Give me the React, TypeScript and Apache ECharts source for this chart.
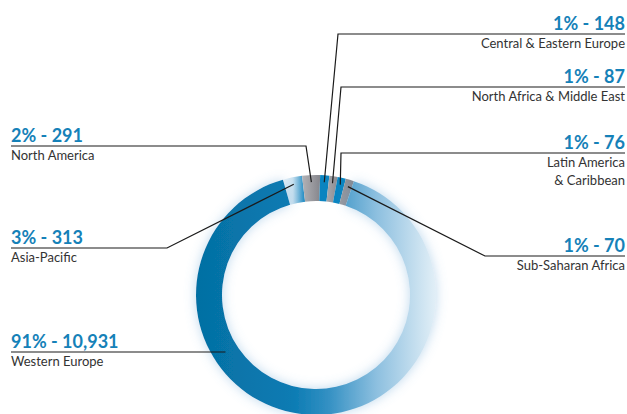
import React, { useEffect, useRef } from "react";
import * as echarts from "echarts";

// ---- data (clockwise from the top-left) ----
const regions = [
  "Asia-Pacific",
  "North America",
  "Central & Eastern Europe",
  "North Africa & Middle East",
  "Latin America\n& Caribbean",
  "Sub-Saharan Africa",
  "Western Europe",
];
const values = [313, 291, 148, 87, 76, 70, 10931];
const percents = [3, 2, 1, 1, 1, 1, 91];

// ---- layout (not data) ----
const labelSide = ["left", "left", "right", "right", "right", "right", "left"];
const labelLineY = [248, 146, 34, 87, 153, 256, 352];
const elbowX: (number | null)[] = [167, 306, 338, 341, 341, 485, null];

const CX = 316;
const CY = 295;
const R_IN = 94;
const R_OUT = 120;
const R_MARK = 113;
const LEFT_X = 11;
const RIGHT_X = 625;
const START = 106;
const MIN_ANGLE = 4;

const BLUE_TEXT = "#1581b8";
const LG = (stops: [number, string][]) =>
  new echarts.graphic.LinearGradient(
    0,
    0,
    1,
    0,
    stops.map(([offset, color]) => ({ offset, color }))
  );

const segmentStyles = [
  {
    color: LG([
      [0, "#eef5fa"],
      [0.45, "#c8e0ef"],
      [1, "#1786c0"],
    ]),
  },
  {
    color: LG([
      [0, "#b2b2b6"],
      [1, "#86868c"],
    ]),
  },
  { color: "#0a84c0" },
  {
    color: LG([
      [0, "#a8a8ad"],
      [1, "#8c8c92"],
    ]),
  },
  { color: "#0a84c0" },
  {
    color: LG([
      [0, "#9a9aa0"],
      [1, "#85858b"],
    ]),
  },
  {
    color: LG([
      [0, "#0570a3"],
      [0.4, "#0a7bb3"],
      [0.55, "#3390c3"],
      [0.75, "#8cbfdf"],
      [1, "#e2eff7"],
    ]),
    shadowBlur: 12,
    shadowColor: "rgba(110,170,215,0.45)",
  },
];

export default function App() {
  const ref = useRef<HTMLDivElement>(null);

  useEffect(() => {
    if (!ref.current) return;
    const chart = echarts.init(ref.current, undefined, { renderer: "svg" });

    const ringData = values.map((v, i) => ({
      value: v,
      name: regions[i],
      itemStyle: segmentStyles[i],
    }));
    const labelData = values.map((v, i) => ({
      value: v,
      name: regions[i],
    }));

    const common = {
      type: "pie",
      center: [CX, CY],
      radius: [R_IN, R_OUT],
      startAngle: START,
      clockwise: true,
      minAngle: MIN_ANGLE,
      avoidLabelOverlap: false,
      emphasis: { disabled: true },
      silent: true,
    };

    chart.setOption({
      animation: false,
      backgroundColor: "#ffffff",
      textStyle: { fontFamily: "Lato" },
      series: [
        {
          ...common,
          z: 2,
          itemStyle: { borderWidth: 0 },
          label: { show: false },
          labelLine: { show: false },
          data: ringData,
        },
        {
          ...common,
          z: 5,
          itemStyle: { color: "rgba(0,0,0,0)", borderWidth: 0 },
          label: {
            show: true,
            position: "outside",
            fontFamily: "Lato",
            formatter: (p: any) => {
              const i = p.dataIndex;
              const v = values[i].toLocaleString("en-US");
              const nameLines = regions[i]
                .split("\n")
                .map((s) => `{n|${s}}`)
                .join("\n");
              return `{v|${percents[i]}% - ${v}}\n${nameLines}`;
            },
            rich: {
              v: {
                fontFamily: "Lato",
                fontSize: 18,
                fontWeight: "bold",
                color: BLUE_TEXT,
                lineHeight: 22,
              },
              n: {
                fontFamily: "Lato",
                fontSize: 13,
                color: "#333333",
                lineHeight: 18,
              },
            },
          },
          labelLine: {
            show: true,
            showAbove: true,
            lineStyle: { color: "#1a1a1a", width: 1.2 },
          },
          labelLayout: (p: any) => {
            const i = p.dataIndex;
            const side = labelSide[i];
            const ly = labelLineY[i];
            const endX = side === "left" ? LEFT_X : RIGHT_X;
            let pts: number[][];
            const ex = elbowX[i];
            if (ex == null) {
              const rm = (R_IN + R_OUT) / 2;
              const dy = ly - CY;
              const rx = CX - Math.sqrt(rm * rm - dy * dy);
              pts = [
                [rx, ly],
                [rx - 1, ly],
                [endX, ly],
              ];
            } else {
              const p0 =
                p.labelLinePoints && p.labelLinePoints[0]
                  ? p.labelLinePoints[0]
                  : [p.rect.x + p.rect.width / 2, p.rect.y + p.rect.height / 2];
              const dx = p0[0] - CX;
              const dy = p0[1] - CY;
              const d = Math.hypot(dx, dy) || 1;
              const ring = [CX + (dx / d) * R_MARK, CY + (dy / d) * R_MARK];
              pts = [ring, [ex, ly], [endX, ly]];
            }
            return {
              x: endX,
              y: ly - 22,
              align: side,
              verticalAlign: "top",
              labelLinePoints: pts,
            };
          },
          data: labelData,
        },
      ],
    });

    return () => chart.dispose();
  }, []);

  return (
    <div
      ref={ref}
      style={{
        position: "fixed",
        left: 0,
        top: 0,
        width: 627,
        height: 414,
        background: "#fff",
      }}
    />
  );
}
